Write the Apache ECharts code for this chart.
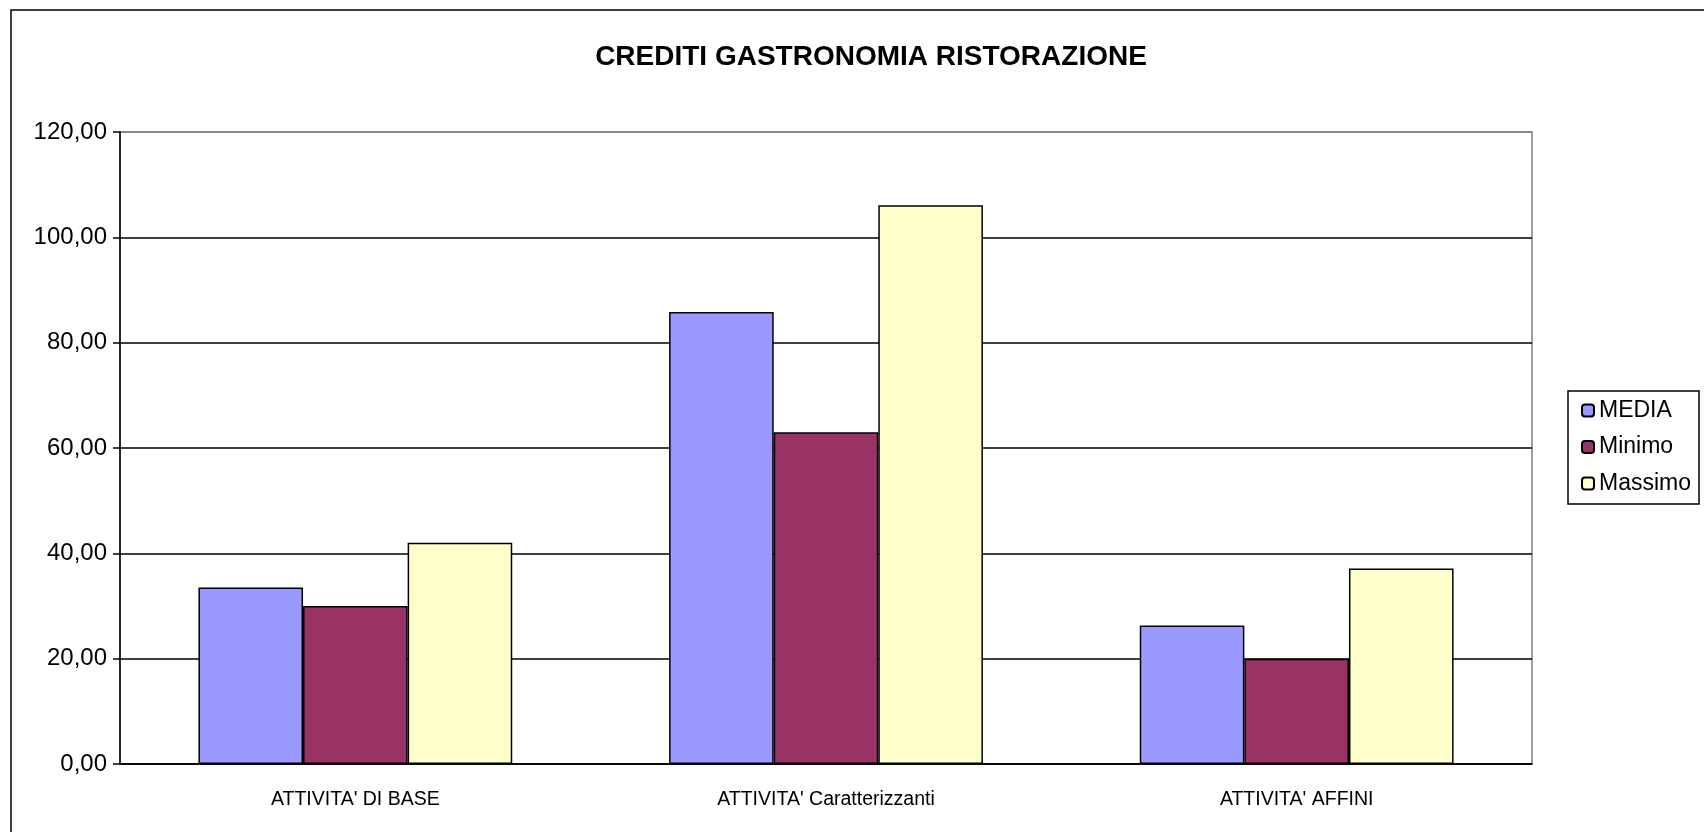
<!DOCTYPE html>
<html>
<head>
<meta charset="utf-8">
<title>CREDITI GASTRONOMIA RISTORAZIONE</title>
<script src="https://cdn.jsdelivr.net/npm/echarts@6/dist/echarts.min.js"></script>
<style>
  html, body { margin: 0; padding: 0; background: #fff; }
  #chart { width: 1704px; height: 832px; }
</style>
</head>
<body>
<div id="chart"></div>
<script>
// dati
const categories = ["ATTIVITA' DI BASE", "ATTIVITA' Caratterizzanti", "ATTIVITA' AFFINI"]
const media = [33.5, 85.8, 26.3]
const minimo = [30, 63, 20]
const massimo = [42, 106.1, 37.1]
const yTicks = [0, 20, 40, 60, 80, 100, 120]

const font = '"Liberation Sans", Arial, sans-serif'

const chart = echarts.init(document.getElementById('chart'))

function barSeries(name, color, data) {
  return {
    name: name,
    type: 'bar',
    data: data,
    barWidth: 104.6,
    barGap: '0%',
    itemStyle: {
      color: color,
      borderColor: '#000',
      borderWidth: 1.5
    }
  }
}

chart.setOption({
  animation: false,
  title: {
    text: 'CREDITI GASTRONOMIA RISTORAZIONE',
    left: 866,
    top: 38,
    textAlign: 'center',
    textStyle: {
      fontFamily: font,
      fontSize: 28,
      fontWeight: 'bold',
      color: '#000'
    }
  },
  legend: {
    orient: 'vertical',
    left: 1568,
    top: 391,
    itemWidth: 12,
    itemHeight: 12,
    itemGap: 13.5,
    itemTextGap: 2,
    padding: [8, 8, 9, 13],
    borderColor: '#000',
    borderWidth: 1.5,
    textStyle: {
      fontFamily: font,
      fontSize: 23,
      color: '#000'
    },
    data: ['MEDIA', 'Minimo', 'Massimo']
  },
  grid: {
    left: 120,
    right: 172,
    top: 132,
    bottom: 68,
    show: true,
    borderColor: '#808080',
    borderWidth: 1.5
  },
  xAxis: {
    type: 'category',
    data: categories,
    axisLine: { lineStyle: { color: '#000', width: 1.5 } },
    axisTick: {
      alignWithLabel: false,
      interval: 0,
      length: 7,
      lineStyle: { color: '#000', width: 1.5 }
    },
    axisLabel: {
      interval: 0,
      margin: 26,
      fontFamily: font,
      fontSize: 19.5,
      color: '#000'
    }
  },
  yAxis: {
    type: 'value',
    min: yTicks[0],
    max: yTicks[yTicks.length - 1],
    interval: yTicks[1] - yTicks[0],
    axisLine: { show: true, lineStyle: { color: '#000', width: 1.5 } },
    axisTick: { show: true, length: 7, lineStyle: { color: '#000', width: 1.5 } },
    axisLabel: {
      margin: 13,
      fontFamily: font,
      fontSize: 24,
      color: '#000',
      formatter: v => v.toFixed(2).replace('.', ',')
    },
    splitLine: {
      show: true,
      lineStyle: {
        color: ['#000', '#000', '#000', '#000', '#000', '#000', '#808080'],
        width: 1.5
      }
    }
  },
  graphic: [{
    type: 'rect',
    silent: true,
    shape: { x: 11, y: 10, width: 1800, height: 900 },
    style: { fill: null, stroke: '#000', lineWidth: 1.5 }
  }],
  series: [
    barSeries('MEDIA', '#9999FF', media),
    barSeries('Minimo', '#993366', minimo),
    barSeries('Massimo', '#FFFFCC', massimo)
  ]
})
</script>
</body>
</html>
